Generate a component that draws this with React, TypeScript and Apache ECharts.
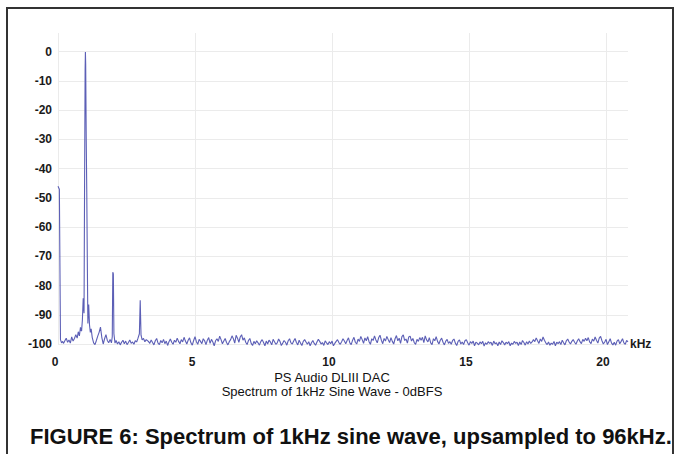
import React, { useEffect, useRef } from "react";
import * as echarts from "echarts";

// Low-frequency region: explicit frequency (kHz) / level (dB) pairs
const lowBandKHz = [
  0, 0.05, 0.09, 0.13, 0.17, 0.2, 0.25, 0.3, 0.35, 0.4, 0.45, 0.5, 0.55, 0.6, 0.65, 0.7, 0.74, 0.78,
  0.82, 0.86, 0.89, 0.92, 0.95, 0.97, 0.99, 1.0, 1.01, 1.03, 1.05, 1.07, 1.09, 1.12, 1.15, 1.18,
  1.21, 1.25, 1.3, 1.35, 1.4, 1.45, 1.5, 1.55, 1.6, 1.65, 1.7, 1.75, 1.8, 1.85, 1.9, 1.95, 1.98,
  2.0, 2.02, 2.04, 2.08, 2.12, 2.17, 2.22, 2.27, 2.32, 2.37, 2.42, 2.47, 2.52, 2.57, 2.62, 2.67,
  2.72, 2.77, 2.82, 2.87, 2.92, 2.97, 3.0, 3.03, 3.07, 3.12, 3.17, 3.22, 3.27,
];
const lowBandDb = [
  -46, -47, -98.5, -99.6, -99.1, -99.8, -98.9, -98.0, -99.4, -98.6, -99.7, -97.6, -99.0, -98.1, -96.8, -98.0, -95.8, -97.2,
  -94.3, -95.6, -91.8, -84.3, -89.5, -45, -6, 0, -4, -30, -48, -72, -93, -86.5, -93.5, -96,
  -94.8, -97.8, -99.6, -100.2, -98.8, -97.3, -96.0, -94.2, -97.8, -100.0, -98.2, -96.8, -98.8, -99.6, -98.4, -99.6, -97.5,
  -75.4, -76, -96.5, -99.7, -98.8, -100.0, -99.2, -100.3, -99.4, -98.7, -99.9, -99.0, -100.2, -99.5, -98.6, -99.8,
  -99.3, -100.1, -98.9, -99.3, -98.0, -96.5, -85, -97, -98.6, -98.1, -99.2, -98.5, -98.9,
];

// Noise floor from 3.30 kHz upward, one reading every 0.05 kHz
const noiseStartKHz = 3.3;
const noiseStepKHz = 0.05;
const noiseDb = [
  -99.1, -99.8, -98.6, -99.5, -100.3, -98.9, -98.1, -99.7, -100.2, -98.8, -99.6, -98.4, -99.9, -99.0, -100.5, -99.2, -98.3, -99.4, -100.1, -98.7,
  -99.4, -98.0, -99.1, -99.9, -98.5, -99.3, -97.7, -99.0, -100.0, -98.7, -97.9, -99.6, -100.4, -98.8, -97.5, -99.2, -100.1, -98.4, -99.1, -99.9,
  -98.2, -98.9, -100.2, -98.7, -97.8, -99.8, -98.4, -99.3, -100.6, -98.9, -98.2, -99.1, -97.3, -98.5, -99.9, -99.0, -98.1, -99.5, -100.3, -99.2,
  -98.5, -97.2, -98.2, -99.7, -97.0, -98.0, -99.4, -97.6, -96.8, -98.7, -97.9, -99.4, -100.2, -98.8, -98.1, -99.8, -100.5, -99.1, -99.9, -98.9,
  -99.6, -100.4, -99.2, -98.5, -99.5, -100.6, -99.0, -100.0, -98.7, -99.3, -100.3, -98.4, -99.2, -100.1, -99.6, -98.3, -99.1, -100.5, -99.7, -98.8,
  -99.4, -100.4, -98.9, -98.2, -99.6, -100.0, -99.0, -98.1, -99.5, -100.3, -98.7, -99.7, -100.5, -99.1, -98.5, -99.3, -100.1, -99.2, -100.6, -99.6,
  -98.8, -99.8, -100.4, -99.3, -98.4, -99.1, -100.0, -99.5, -100.5, -98.9, -99.6, -100.2, -99.2, -99.9, -99.0, -100.6, -99.8, -99.1, -98.5, -99.5,
  -100.1, -99.2, -98.2, -99.0, -99.9, -98.8, -97.9, -99.6, -100.2, -98.7, -97.7, -99.4, -100.0, -98.3, -99.1, -97.4, -98.5, -99.8, -97.9, -98.9,
  -97.5, -99.2, -100.1, -98.2, -98.8, -97.2, -98.6, -99.6, -97.9, -97.0, -98.7, -99.9, -98.1, -99.0, -97.4, -98.5, -99.5, -97.8, -99.1, -100.0,
  -98.2, -97.1, -98.9, -98.0, -99.8, -97.5, -96.9, -98.8, -98.3, -99.7, -97.6, -97.3, -99.0, -98.1, -99.5, -100.1, -98.4, -99.1, -97.8, -98.7,
  -97.7, -99.5, -97.2, -98.6, -99.3, -97.8, -99.6, -100.2, -98.2, -98.9, -97.5, -99.1, -100.0, -98.7, -98.0, -99.4, -100.3, -99.0, -98.4, -99.8,
  -99.2, -100.1, -98.8, -98.3, -99.7, -100.5, -99.1, -98.6, -100.0, -99.3, -100.2, -98.9, -98.5, -99.6, -100.4, -99.2, -99.8, -99.0, -100.6, -99.4,
  -99.7, -100.3, -99.3, -99.9, -99.1, -100.7, -99.6, -100.1, -99.2, -99.8, -99.4, -100.5, -99.0, -99.9, -99.6, -100.6, -99.3, -100.2, -98.9, -99.5,
  -100.3, -99.4, -99.9, -99.2, -100.6, -99.7, -100.1, -99.1, -99.8, -99.4, -100.5, -99.3, -100.2, -98.8, -99.5, -100.4, -99.2, -100.0, -99.0, -99.8,
  -99.3, -98.5, -99.2, -97.9, -98.9, -99.8, -98.3, -99.1, -97.6, -98.7, -99.6, -100.2, -99.3, -100.4, -99.7, -100.1, -99.1, -100.6, -99.4, -99.9,
  -99.2, -100.2, -98.7, -99.6, -100.3, -98.9, -98.3, -99.3, -100.0, -99.1, -98.5, -99.4, -100.1, -99.0, -98.2, -99.2, -99.9, -98.4, -99.1, -98.0,
  -98.9, -97.8, -99.3, -99.9, -98.3, -99.0, -97.6, -98.7, -99.7, -98.0, -97.4, -98.9, -100.0, -99.3, -98.4, -100.2, -99.2, -98.2, -99.7, -100.3,
  -99.4, -100.4, -99.0, -98.5, -99.9, -99.1, -98.2, -99.6, -100.1, -98.8, -99.3,
];

const xTickStepKHz = 5;
const xMaxKHz = 20.8;
const yTickStepDb = 10;
const titleLines = ["PS Audio DLIII DAC", "Spectrum of 1kHz Sine Wave - 0dBFS"];
const captionText = "FIGURE 6: Spectrum of 1kHz sine wave, upsampled to 96kHz.";

const FONT = "'Liberation Sans', Arial, Helvetica, sans-serif";

export default function App() {
  const ref = useRef<HTMLDivElement>(null);

  useEffect(() => {
    if (!ref.current) return;
    const chart = echarts.init(ref.current, undefined, { renderer: "svg" });

    const points: [number, number][] = [];
    lowBandKHz.forEach((f, i) => points.push([f, lowBandDb[i]]));
    noiseDb.forEach((v, i) =>
      points.push([+(noiseStartKHz + i * noiseStepKHz).toFixed(2), v])
    );

    const gridBottom = 110;
    const labelStyle = {
      color: "#1a1a1a",
      fontSize: 12,
      fontWeight: "bold" as const,
      fontFamily: FONT,
    };

    chart.setOption({
      animation: false,
      backgroundColor: "#ffffff",
      grid: [
        { left: 58, right: 51, top: 33, bottom: gridBottom },
        { left: 58, right: 51, top: 51.7, bottom: gridBottom },
        { left: 58, right: 73, top: 33, bottom: gridBottom },
      ],
      xAxis: [
        {
          gridIndex: 0,
          type: "value",
          min: 0,
          max: xMaxKHz,
          position: "bottom",
          axisLine: { show: false, onZero: false },
          axisTick: { show: false },
          axisLabel: { show: false },
          splitLine: { show: false },
          name: "kHz",
          nameLocation: "end",
          nameGap: 2,
          nameTextStyle: { ...labelStyle, verticalAlign: "middle", padding: [0, 0, 5, 0] },
        },
        {
          gridIndex: 1,
          type: "value",
          min: 0,
          max: xMaxKHz,
          show: false,
        },
        {
          gridIndex: 2,
          type: "value",
          min: 0,
          max: 20,
          interval: xTickStepKHz,
          position: "bottom",
          axisLine: { show: false, onZero: false },
          axisTick: { show: false },
          axisLabel: { ...labelStyle, margin: 12, padding: [0, 6, 0, 0] },
          splitLine: { show: true, lineStyle: { color: "#ebebeb", width: 1 } },
        },
      ],
      yAxis: [
        { gridIndex: 0, type: "value", min: -100, max: 6.5, show: false },
        {
          gridIndex: 1,
          type: "value",
          min: -100,
          max: 0,
          interval: yTickStepDb,
          axisLine: { show: false },
          axisTick: { show: false },
          axisLabel: { ...labelStyle, margin: 6 },
          splitLine: { show: true, lineStyle: { color: "#ebebeb", width: 1 } },
        },
        { gridIndex: 2, type: "value", min: -100, max: 0, show: false },
      ],
      series: [
        {
          type: "line",
          xAxisIndex: 0,
          yAxisIndex: 0,
          data: points,
          showSymbol: false,
          symbol: "none",
          clip: false,
          lineStyle: { color: "#5c5fb6", width: 1.1 },
          z: 5,
        },
      ],
      graphic: [
        {
          type: "rect",
          shape: { x: 7, y: 8, width: 666, height: 470 },
          style: { fill: "none", stroke: "#333333", lineWidth: 2 },
          silent: true,
        },
        {
          type: "text",
          x: 332,
          y: 384.5,
          style: {
            text: titleLines.join("\n"),
            fontSize: 13,
            lineHeight: 14.5,
            fontFamily: FONT,
            fill: "#111",
            align: "center",
            verticalAlign: "middle",
          },
        },
        {
          type: "text",
          x: 30,
          y: 436,
          style: {
            text: captionText,
            fontSize: 22,
            fontWeight: "bold",
            fontFamily: FONT,
            fill: "#111",
            align: "left",
            verticalAlign: "middle",
          },
        },
      ],
    });

    return () => chart.dispose();
  }, []);

  return (
    <div
      ref={ref}
      style={{ position: "fixed", left: 0, top: 0, width: 679, height: 454, background: "#fff" }}
    />
  );
}
